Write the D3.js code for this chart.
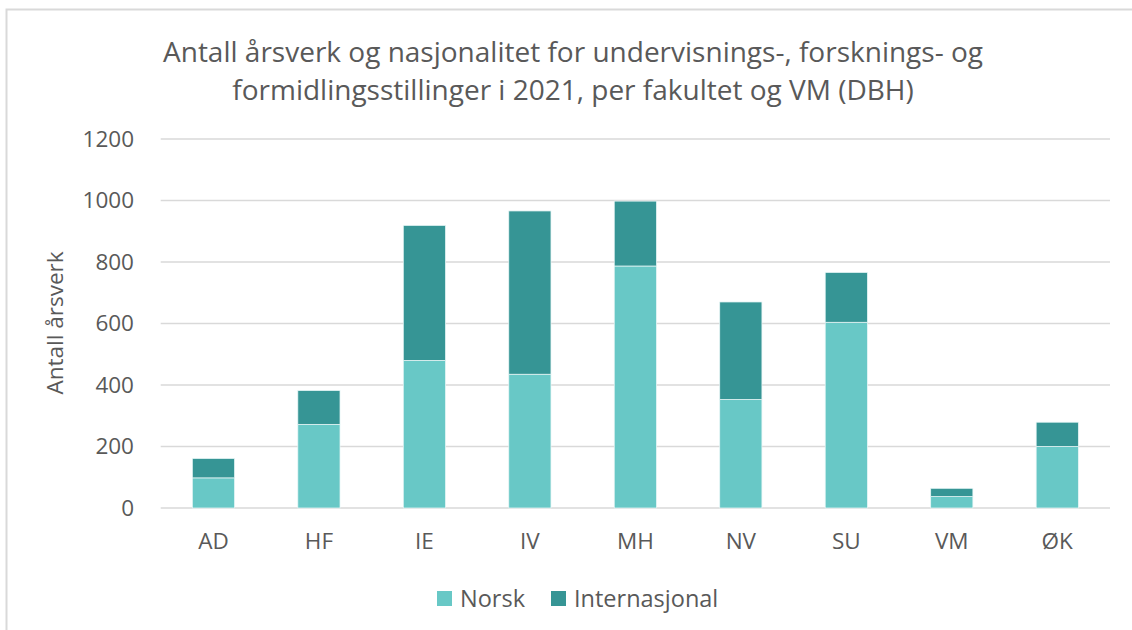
<html>
<head>
<meta charset="utf-8">
<script src="https://d3js.org/d3.v7.min.js"></script>
<style>
body {margin: 0; background: #fff;}
text {font-family: "Open Sans", sans-serif; fill: #595959;}
</style>
</head>
<body>
<svg id="chart" width="1132" height="630"></svg>
<script>

// faculty codes
const fakulteter = ["AD", "HF", "IE", "IV", "MH", "NV", "SU", "VM", "ØK"];
// årsverk per series
const norsk = [98, 272, 480, 435, 787, 353, 604, 37, 200];
const internasjonal = [63, 110, 439, 531, 211, 317, 162, 27, 79];
const seriesNames = ["Norsk", "Internasjonal"];
const yTicks = [0, 200, 400, 600, 800, 1000, 1200];

const colors = {"Norsk": "#68c8c6", "Internasjonal": "#369595"};

const svg = d3.select("#chart");

// outer chart frame (Excel chart area border)
svg.append("rect")
  .attr("x", 6.5).attr("y", 9.5)
  .attr("width", 1140).attr("height", 640)
  .attr("fill", "none").attr("stroke", "#d9d9d9").attr("stroke-width", 2);

const rows = fakulteter.map((f, i) => ({fak: f, Norsk: norsk[i], Internasjonal: internasjonal[i]}));
const stacked = d3.stack().keys(seriesNames)(rows);

const x = d3.scaleBand().domain(fakulteter).range([160.7, 1110]).paddingInner(0.6).paddingOuter(0.3);
const y = d3.scaleLinear().domain([0, 1200]).range([508, 139]);

// gridlines
svg.append("g")
  .selectAll("line")
  .data(yTicks)
  .enter()
  .append("line")
  .attr("x1", 160.7).attr("x2", 1110)
  .attr("y1", d => y(d)).attr("y2", d => y(d))
  .attr("stroke", "#d9d9d9").attr("stroke-width", 1.5);

// y axis labels
const yAxis = svg.append("g").attr("transform", "translate(134,0)")
  .call(d3.axisLeft(y).tickValues(yTicks).tickFormat(d3.format("d")).tickSize(0).tickPadding(0));
yAxis.select(".domain").remove();
yAxis.selectAll("text").style("font-size", "22.5px").attr("fill", "#595959").style("font-family", "Open Sans");

// x axis labels
const xAxis = svg.append("g").attr("transform", "translate(0,533)")
  .call(d3.axisBottom(x).tickSize(0).tickPadding(0));
xAxis.select(".domain").remove();
xAxis.selectAll("text").style("font-size", "22.5px").attr("fill", "#595959").style("font-family", "Open Sans");

// bars
svg.append("g")
  .selectAll("g")
  .data(stacked)
  .enter()
  .append("g")
  .attr("fill", d => colors[d.key])
  .selectAll("rect")
  .data(d => d)
  .enter()
  .append("rect")
  .attr("x", d => x(d.data.fak))
  .attr("y", d => y(d[1]))
  .attr("width", x.bandwidth())
  .attr("height", d => y(d[0]) - y(d[1]))
  .attr("stroke", "#e8f6f6").attr("stroke-width", 0.75);

// title
svg.append("text")
  .attr("x", 573).attr("y", 62)
  .attr("text-anchor", "middle")
  .style("font-size", "28px")
  .text("Antall årsverk og nasjonalitet for undervisnings-, forsknings- og");
svg.append("text")
  .attr("x", 573).attr("y", 100)
  .attr("text-anchor", "middle")
  .style("font-size", "28px")
  .text("formidlingsstillinger i 2021, per fakultet og VM (DBH)");

// y axis title
svg.append("text")
  .attr("transform", "translate(63,323) rotate(-90)")
  .attr("text-anchor", "middle")
  .style("font-size", "22.5px")
  .text("Antall årsverk");

// legend
const legendX = [437, 551];
const legend = svg.append("g")
  .selectAll("g")
  .data(seriesNames)
  .enter()
  .append("g")
  .attr("transform", (d, i) => "translate(" + legendX[i] + ",591)");
legend.append("rect")
  .attr("width", 15).attr("height", 15)
  .attr("fill", d => colors[d]);
legend.append("text")
  .attr("x", 23).attr("y", 15.5)
  .style("font-size", "23.5px")
  .text(d => d);

</script>
</body>
</html>
